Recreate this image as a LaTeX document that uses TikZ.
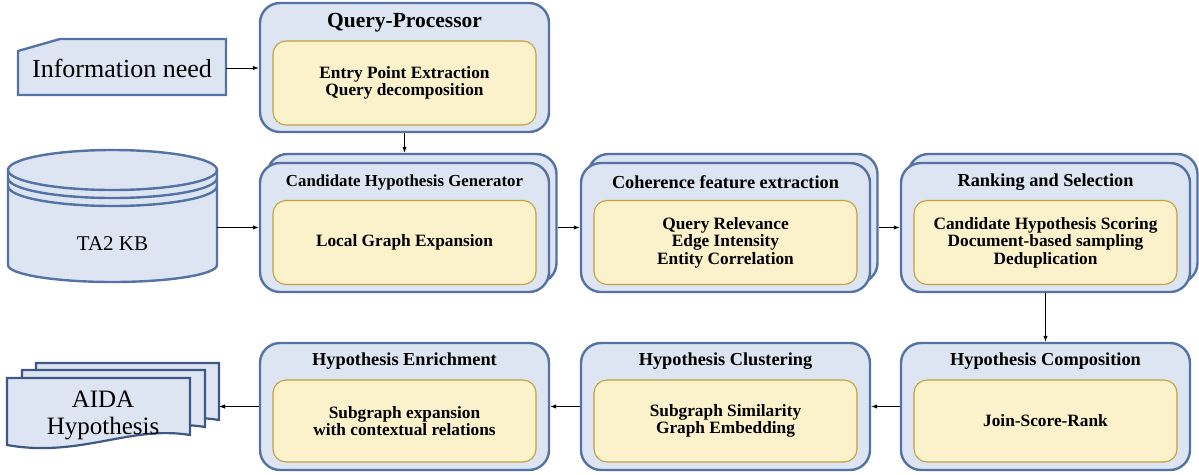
\documentclass[tikz,border=0pt]{standalone}
\usepackage{fontspec}
\setmainfont{Liberation Serif}
\usetikzlibrary{arrows.meta}
\definecolor{stageline}{RGB}{84,114,164}
\definecolor{stagefill}{RGB}{221,229,243}
\definecolor{taskline}{RGB}{196,160,64}
\definecolor{taskfill}{RGB}{251,241,203}
\definecolor{docline}{RGB}{62,88,134}
\tikzset{
    stage/.style={draw=stageline, fill=stagefill, line width=2.4pt,
        rounded corners=20pt, minimum width=289pt, minimum height=129pt},
    stagetitle/.style={font=\bfseries\fontsize{18.3}{22}\selectfont},
    task/.style={draw=taskline, fill=taskfill, line width=1.1pt,
        rounded corners=13pt, minimum width=263pt, minimum height=84pt,
        align=center, font=\bfseries\fontsize{17.3}{17.5}\selectfont},
    store/.style={draw=stageline, fill=stagefill, line width=2.4pt},
    docpage/.style={draw=docline, fill=stagefill, line width=2.2pt},
    flow/.style={-{Latex[length=6pt,width=4.5pt]}, line width=0.9pt}
}

\begin{document}
\begin{tikzpicture}[x=1pt,y=-1pt]
      \useasboundingbox (0,0) rectangle (1199,474);
      % inputs
      \draw[store] (18,51) -- (60,39) -- (226,39) -- (226,95) -- (18,95) -- cycle;
      \node[minimum width=208pt, minimum height=56pt, font=\fontsize{26}{30}\selectfont] (info) at (122,68) {Information need};
      \draw[store] (8,170) -- (8,265) arc[start angle=180, end angle=0, x radius=104.5, y radius=17] -- (217,170);
      \draw[store, fill=none] (8,186) arc[start angle=180, end angle=0, x radius=104.5, y radius=20];
      \draw[store, fill=none] (8,178) arc[start angle=180, end angle=0, x radius=104.5, y radius=20];
      \draw[store] (112.5,170) ellipse[x radius=104.5, y radius=20];
      \node[minimum width=209pt, font=\fontsize{21}{25}\selectfont] (kb) at (112.5,244) {TA2 KB};
      % top row
      \node[stage] (qp) at (404.5,67.5) {};
      \node[stagetitle, font=\bfseries\fontsize{21.5}{25}\selectfont] (qptitle) at (404.5,23) {Query-Processor};
      \node[task] (qptask) at (404.5,83) {Entry Point Extraction\\Query decomposition};
      % middle row
      \node[stage] (chgback) at (412,218.5) {};
      \node[stage] (chg) at (404.5,227.5) {};
      \node[stagetitle, font=\bfseries\fontsize{16.8}{20}\selectfont] (chgtitle) at (404.5,182.5) {Candidate Hypothesis Generator};
      \node[task] (chgtask) at (404.5,242.5) {Local Graph Expansion};
      \node[stage] (cohback) at (733,218.5) {};
      \node[stage] (coh) at (725.5,227.5) {};
      \node[stagetitle] (cohtitle) at (725.5,182.5) {Coherence feature extraction};
      \node[task] (cohtask) at (725.5,242.5) {Query Relevance\\Edge Intensity\\Entity Correlation};
      \node[stage] (rankback) at (1053,218.5) {};
      \node[stage] (rank) at (1045.5,227.5) {};
      \node[stagetitle] (ranktitle) at (1045.5,182.5) {Ranking and Selection};
      \node[task] (ranktask) at (1045.5,242.5) {Candidate Hypothesis Scoring\\Document-based sampling\\Deduplication};
      % bottom row
      \node[stage, minimum height=127pt] (comp) at (1045.5,406.5) {};
      \node[stagetitle] (comptitle) at (1045.5,361.5) {Hypothesis Composition};
      \node[task, minimum height=82pt] (comptask) at (1045.5,421) {Join-Score-Rank};
      \node[stage, minimum height=127pt] (clus) at (725.5,406.5) {};
      \node[stagetitle] (clustitle) at (725.5,361.5) {Hypothesis Clustering};
      \node[task, minimum height=82pt] (clustask) at (725.5,421) {Subgraph Similarity\\Graph Embedding};
      \node[stage, minimum height=127pt] (enr) at (404.5,406.5) {};
      \node[stagetitle] (enrtitle) at (404.5,361.5) {Hypothesis Enrichment};
      \node[task, minimum height=82pt] (enrtask) at (404.5,421) {Subgraph expansion\\with contextual relations};
      % output
      \draw[docpage, shift={(29,-15)}] (7,378) -- (190,378) -- (190,435) .. controls (130,425) and (80,458) .. (7,445) -- cycle;
      \draw[docpage, shift={(15,-8)}] (7,378) -- (190,378) -- (190,435) .. controls (130,425) and (80,458) .. (7,445) -- cycle;
      \draw[docpage] (7,378) -- (190,378) -- (190,435) .. controls (130,425) and (80,458) .. (7,445) -- cycle;
      \node[align=center, font=\fontsize{25}{27}\selectfont] (aida) at (103,415) {AIDA\\Hypothesis};
      \coordinate (aidain) at (219,406.5);
      % arrows
      \draw[flow] (info.east) -- (info.east -| qp.west);
      \draw[flow] (qp.south) -- (qp.south |- chgback.north);
      \draw[flow] (kb.east |- chg.west) -- (chg.west);
      \draw[flow] (chgback.east |- chg.east) -- (coh.west);
      \draw[flow] (cohback.east |- coh.east) -- (rank.west);
      \draw[flow] (rank.south) -- (comp.north);
      \draw[flow] (comp.west) -- (clus.east);
      \draw[flow] (clus.west) -- (enr.east);
      \draw[flow] (enr.west) -- (aidain);
    \end{tikzpicture}
\end{document}
